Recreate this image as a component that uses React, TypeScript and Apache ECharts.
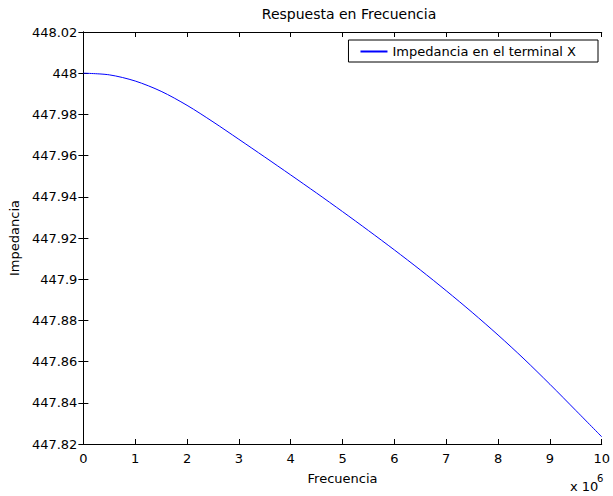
import React, { useEffect, useRef } from "react";
import * as echarts from "echarts";

const frequency = [0, 0.5, 1, 1.5, 2, 2.5, 3, 3.5, 4, 4.5, 5, 5.5, 6, 6.5, 7, 7.5, 8, 8.5, 9, 9.5, 10];
const impedance = [
  448.0, 447.9992, 447.9962, 447.9912, 447.9844, 447.9764, 447.9679, 447.9593, 447.9506, 447.9418, 447.9328,
  447.9236, 447.9142, 447.9045, 447.8944, 447.8839, 447.8729, 447.8613, 447.849, 447.8363, 447.8235,
];
const seriesName = "Impedancia en el terminal X";
const titleText = "Respuesta en Frecuencia";
const xName = "Frecuencia";
const yName = "Impedancia";

const FONT = "DejaVu Sans";
const BLUE = "#0000ff";

export default function App() {
  const ref = useRef<HTMLDivElement>(null);
  useEffect(() => {
    if (!ref.current) return;
    const chart = echarts.init(ref.current, null, { renderer: "svg" });
    const axisLine = { show: true, lineStyle: { color: "#000", width: 1 } };
    const tickStyle = { show: true, inside: true, length: 5, lineStyle: { color: "#000" } };
    const labelStyle = { color: "#000", fontFamily: FONT, fontSize: 13 };
    chart.setOption({
      animation: false,
      backgroundColor: "#fff",
      title: {
        text: titleText,
        left: 344,
        textAlign: "center",
        top: 2,
        textStyle: { color: "#000", fontFamily: FONT, fontSize: 14, fontWeight: "normal" },
      },
      legend: {
        right: 15,
        top: 40,
        orient: "horizontal",
        backgroundColor: "#fff",
        borderColor: "#000",
        borderWidth: 1,
        borderRadius: 0,
        padding: [5, 22, 4, 12],
        itemWidth: 27,
        itemHeight: 2,
        itemStyle: { color: BLUE, borderWidth: 0 },
        textStyle: { color: "#000", fontFamily: FONT, fontSize: 13 },
        data: [{ name: seriesName, icon: "rect", itemStyle: { color: BLUE, borderWidth: 0 } }],
      },
      grid: { left: 83, right: 8, top: 32, bottom: 52, containLabel: false },
      xAxis: [
        {
          type: "value",
          min: 0,
          max: 10,
          interval: 1,
          position: "bottom",
          name: xName,
          nameLocation: "middle",
          nameGap: 28,
          nameTextStyle: { color: "#000", fontFamily: FONT, fontSize: 13 },
          axisLine,
          axisTick: tickStyle,
          axisLabel: { ...labelStyle, margin: 8 },
          splitLine: { show: false },
        },
        {
          type: "value",
          min: 0,
          max: 10,
          interval: 1,
          position: "top",
          axisLine,
          axisTick: tickStyle,
          axisLabel: { show: false },
          splitLine: { show: false },
        },
      ],
      yAxis: [
        {
          type: "value",
          min: 447.82,
          max: 448.02,
          interval: 0.02,
          position: "left",
          name: yName,
          nameLocation: "middle",
          nameGap: 60,
          nameTextStyle: { color: "#000", fontFamily: FONT, fontSize: 13 },
          axisLine,
          axisTick: tickStyle,
          axisLabel: {
            ...labelStyle,
            margin: 6,
            formatter: (v: number) => String(parseFloat(v.toFixed(2))),
          },
          splitLine: { show: false },
        },
        {
          type: "value",
          min: 447.82,
          max: 448.02,
          interval: 0.02,
          position: "right",
          axisLine,
          axisTick: tickStyle,
          axisLabel: { show: false },
          splitLine: { show: false },
        },
      ],
      graphic: [
        {
          type: "text",
          left: 570,
          top: 480,
          style: { text: "x 10", fill: "#000", fontFamily: FONT, fontSize: 13 },
        },
        {
          type: "text",
          left: 597,
          top: 473,
          style: { text: "6", fill: "#000", fontFamily: FONT, fontSize: 10 },
        },
      ],
      series: [
        {
          name: seriesName,
          type: "line",
          xAxisIndex: 0,
          yAxisIndex: 0,
          smooth: 0.3,
          symbol: "none",
          lineStyle: { color: BLUE, width: 1 },
          itemStyle: { color: BLUE },
          data: frequency.map((f, i) => [f, impedance[i]]),
        },
      ],
    });
    return () => chart.dispose();
  }, []);
  return <div ref={ref} style={{ width: 613, height: 496, position: "absolute", left: 0, top: 0 }} />;
}
